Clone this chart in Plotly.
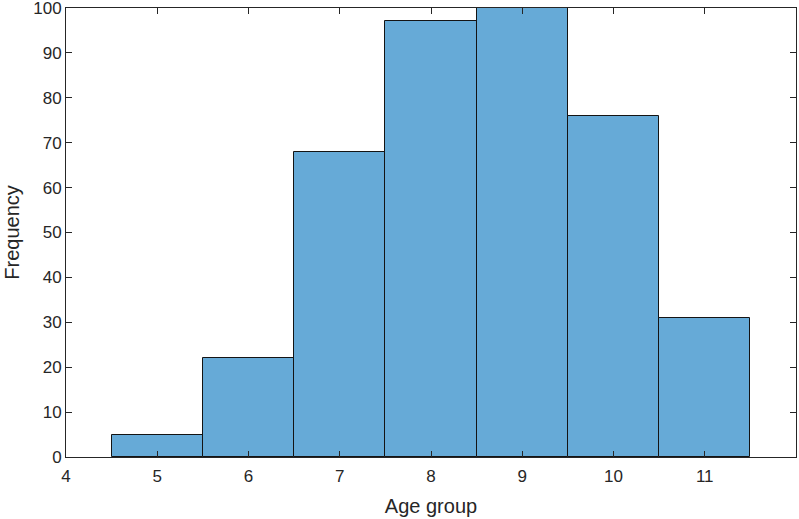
import plotly.graph_objects as go

ages = [5, 6, 7, 8, 9, 10, 11]
freq = [5, 22, 68, 97, 100, 76, 31]
x_ticks = [4, 5, 6, 7, 8, 9, 10, 11]
y_ticks = list(range(0, 101, 10))

FONT = "Liberation Sans, Arial, sans-serif"
INK = "rgb(38,38,38)"

fig = go.Figure()
fig.add_trace(go.Bar(
    x=ages, y=freq, width=1,
    marker=dict(color="rgb(102,170,215)", line=dict(color="rgb(20,20,20)", width=1)),
))

axis_common = dict(
    showline=True, linecolor=INK, linewidth=1, mirror="ticks",
    ticks="inside", ticklen=6, tickcolor=INK, tickwidth=1,
    showgrid=False, zeroline=False, automargin=False,
    ticklabeloverflow="allow",
    tickfont=dict(family=FONT, size=17, color=INK),
)

fig.update_layout(
    width=799, height=519,
    margin=dict(l=66, r=3, t=8, b=62),
    paper_bgcolor="white", plot_bgcolor="white",
    showlegend=False, bargap=0,
    xaxis=dict(range=[4, 12], tickvals=x_ticks, ticktext=[str(v) for v in x_ticks],
               ticklabelstandoff=4,
               title=dict(text="Age group", standoff=13,
                          font=dict(family=FONT, size=20, color=INK)),
               **axis_common),
    yaxis=dict(range=[0, 100.001], tickvals=y_ticks, ticktext=[str(v) for v in y_ticks],
               title=dict(text="Frequency", standoff=8,
                          font=dict(family=FONT, size=20, color=INK)),
               **axis_common),
)

fig.write_html("out.html", config={"responsive": False, "displayModeBar": False},
               post_script="document.body.style.margin='0';document.body.style.overflow='hidden';")
